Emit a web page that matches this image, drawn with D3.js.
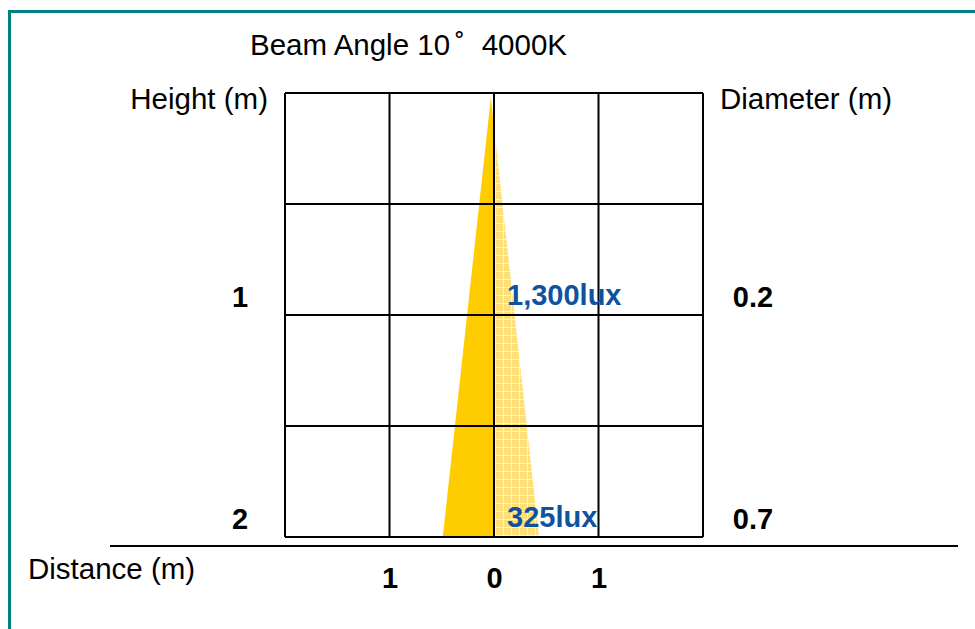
<!DOCTYPE html>
<html>
<head>
<meta charset="utf-8">
<script src="https://cdn.jsdelivr.net/npm/d3@7"></script>
<style>
  html, body { margin: 0; padding: 0; background: #fff; }
  svg { display: block; }
  text { font-family: "Liberation Sans", Arial, sans-serif; }
</style>
</head>
<body>
<svg id="chart" width="975" height="629"></svg>
<script>
// ---- data ----
const titleParts = ["Beam Angle 10", "\u02DA", "4000K"];
const heights = [1, 2];                 // m
const diameters = [0.2, 0.7];           // m
const luxValues = [1300, 325];          // lux
const distanceTicks = [-1, 0, 1];       // m
const gridX = [-2, -1, 0, 1, 2];
const gridY = [0, 0.5, 1, 1.5, 2];
const coneCenter = -0.03;               // m (drawn beam axis)
const coneHalfWidth = 0.46;             // m at 2 m (as drawn)

// ---- layout ----
const svg = d3.select("#chart");
const x = d3.scaleLinear().domain([-2, 2]).range([285, 703]);
const y = d3.scaleLinear().domain([0, 2]).range([93, 537]);

// frame
svg.append("path")
  .attr("d", "M9.5,640 L9.5,11.5 L990,11.5")
  .attr("fill", "none").attr("stroke", "#008080").attr("stroke-width", 3);

// pattern for right half of beam
const defs = svg.append("defs");
const pat = defs.append("pattern").attr("id", "dots")
  .attr("patternUnits", "userSpaceOnUse").attr("width", 8).attr("height", 8);
pat.append("rect").attr("width", 8).attr("height", 8).attr("fill", "#FFDF78");
pat.append("rect").attr("x", 0).attr("y", 7).attr("width", 8).attr("height", 1).attr("fill", "#FFF4D0");
pat.append("rect").attr("x", 7).attr("y", 0).attr("width", 1).attr("height", 8).attr("fill", "#FFF4D0");

defs.append("clipPath").attr("id", "clipL").append("rect")
  .attr("x", 0).attr("y", 0).attr("width", x(0)).attr("height", 629);
defs.append("clipPath").attr("id", "clipR").append("rect")
  .attr("x", x(0)).attr("y", 0).attr("width", 975 - x(0)).attr("height", 629);

const cone = [[coneCenter, 0.02], [coneCenter - coneHalfWidth, 2], [coneCenter + coneHalfWidth, 2]];
const line = d3.line().x(d => x(d[0])).y(d => y(d[1]));
svg.append("path").attr("d", line(cone) + "Z").attr("fill", "#FFCC00").attr("clip-path", "url(#clipL)");
svg.append("path").attr("d", line(cone) + "Z").attr("fill", "url(#dots)").attr("clip-path", "url(#clipR)");

// grid
const g = svg.append("g").attr("stroke", "#000").attr("stroke-width", 2);
g.selectAll("line.v").data(gridX).join("line")
  .attr("x1", d => x(d)).attr("x2", d => x(d)).attr("y1", y(0)).attr("y2", y(2));
g.selectAll("line.h").data(gridY).join("line")
  .attr("x1", x(-2)).attr("x2", x(2)).attr("y1", d => y(d)).attr("y2", d => y(d));

// ground line
svg.append("line").attr("x1", 110).attr("x2", 958).attr("y1", 546).attr("y2", 546)
  .attr("stroke", "#000").attr("stroke-width", 2);

// texts
const fs = 29.5, fb = 29;
svg.append("text").attr("x", 250).attr("y", 55).attr("font-size", fs).text(titleParts[0]);
svg.append("text").attr("x", 455).attr("y", 55).attr("font-size", fs).text(titleParts[1]);
svg.append("text").attr("x", 567).attr("y", 55).attr("font-size", fs).attr("text-anchor", "end").text(titleParts[2]);
svg.append("text").attr("x", 268).attr("y", 109).attr("font-size", fs).attr("text-anchor", "end").text("Height (m)");
svg.append("text").attr("x", 720).attr("y", 109).attr("font-size", fs).text("Diameter (m)");
svg.append("text").attr("x", 28).attr("y", 579).attr("font-size", fs).text("Distance (m)");

// height labels (left)
svg.selectAll("text.h").data(heights).join("text")
  .attr("class", "h").attr("x", 240).attr("y", d => y(d) - 8)
  .attr("text-anchor", "middle").attr("font-size", fb).attr("font-weight", "bold").text(d => d);
// diameter labels (right)
svg.selectAll("text.d").data(diameters).join("text")
  .attr("class", "d").attr("x", 753).attr("y", (d, i) => y(heights[i]) - 8)
  .attr("text-anchor", "middle").attr("font-size", fb).attr("font-weight", "bold").text(d => d);
// lux labels
const fmt = d3.format(",");
svg.selectAll("text.l").data(luxValues).join("text")
  .attr("class", "l").attr("x", 507).attr("y", (d, i) => y(heights[i]) - 10)
  .attr("font-size", fb).attr("font-weight", "bold").attr("fill", "#0F53A0").text(d => fmt(d) + "lux");

// distance ticks
const ax = svg.append("g").attr("transform", "translate(0,560)")
  .call(d3.axisBottom(x).tickValues(distanceTicks).tickSize(0).tickFormat(d => Math.abs(d)));
ax.select(".domain").remove();
ax.selectAll("text").attr("font-size", fb).attr("font-weight", "bold")
  .attr("font-family", "Liberation Sans, Arial, sans-serif").attr("fill", "#000").attr("dy", "0.85em");
</script>
</body>
</html>
